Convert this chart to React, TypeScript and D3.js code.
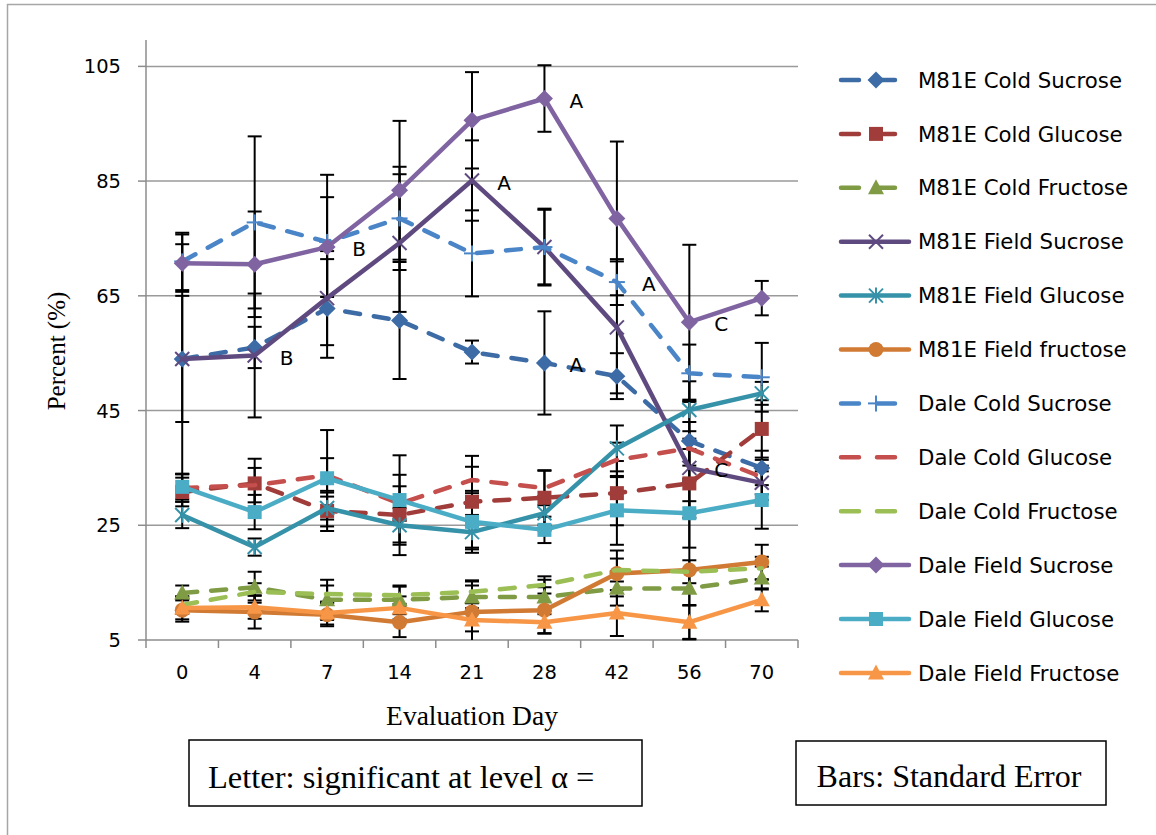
import React, { useEffect, useRef } from 'react';
import * as d3 from 'd3';

// Evaluation days on the x axis
const days = ['0', '4', '7', '14', '21', '28', '42', '56', '70'];
const yTicks = [5, 25, 45, 65, 85, 105];

const seriesNames = [
  'M81E Cold Sucrose',
  'M81E Cold Glucose',
  'M81E Cold Fructose',
  'M81E Field Sucrose',
  'M81E Field Glucose',
  'M81E Field fructose',
  'Dale Cold Sucrose',
  'Dale Cold Glucose',
  'Dale Cold  Fructose',
  'Dale Field Sucrose',
  'Dale Field Glucose',
  'Dale Field Fructose',
];

// Mean percent per day
const m81eColdSucrose = [54.0, 56.0, 62.8, 60.7, 55.2, 53.3, 51.0, 39.7, 35.0];
const m81eColdGlucose = [30.8, 32.3, 27.5, 26.8, 29.1, 29.8, 30.6, 32.3, 41.8];
const m81eColdFructose = [13.2, 14.2, 12.0, 12.0, 12.5, 12.5, 14.0, 14.0, 15.8];
const m81eFieldSucrose = [54.0, 54.6, 64.6, 74.2, 85.1, 73.5, 59.5, 35.0, 32.4];
const m81eFieldGlucose = [26.8, 21.2, 28.0, 25.0, 23.8, 27.1, 38.4, 45.1, 48.0];
const m81eFieldFructose = [10.2, 9.9, 9.4, 8.1, 9.9, 10.2, 16.6, 17.2, 18.6];
const daleColdSucrose = [71.0, 77.8, 74.4, 78.5, 72.4, 73.5, 67.4, 51.5, 50.8];
const daleColdGlucose = [31.5, 32.0, 33.7, 28.8, 32.9, 31.5, 36.4, 38.4, 33.4];
const daleColdFructose = [11.1, 13.4, 13.0, 12.8, 13.4, 14.6, 17.2, 16.9, 17.5];
const daleFieldSucrose = [70.7, 70.5, 73.5, 83.4, 95.6, 99.4, 78.5, 60.4, 64.6];
const daleFieldGlucose = [31.7, 27.3, 33.2, 29.4, 25.6, 24.2, 27.6, 27.1, 29.4];
const daleFieldFructose = [10.6, 10.7, 9.7, 10.6, 8.5, 8.1, 9.7, 8.1, 12.0];

// Standard error per day
const m81eColdSucroseSE = [11, 3.6, 8.6, 10.2, 2, 9, 4, 7, 3];
const m81eColdGlucoseSE = [2.5, 4.3, 3.5, 7, 8, 4.8, 5.6, 6, 5];
const m81eColdFructoseSE = [1.3, 2.7, 3.5, 2.5, 2, 3, 3, 3, 2];
const m81eFieldSucroseSE = [20, 10.8, 8.2, 12, 7, 6.7, 11.5, 8, 3];
const m81eFieldGlucoseSE = [2.3, 1.5, 2, 3, 3, 3, 4, 5, 2];
const m81eFieldFructoseSE = [2, 2.9, 2, 2.6, 5.3, 4, 4, 12, 3];
const daleColdSucroseSE = [5, 15, 11.7, 9, 7.5, 6.5, 4, 5, 6];
const daleColdGlucoseSE = [2.4, 3, 3, 3, 2.3, 3, 3, 3, 3];
const daleColdFructoseSE = [1.5, 1.5, 1.5, 1.5, 2, 1.5, 2, 2, 2];
const daleFieldSucroseSE = [5, 9.2, 8.7, 12.1, 8.4, 5.8, 13.4, 13.5, 3];
const daleFieldGlucoseSE = [2.2, 3, 8.4, 7.8, 5.4, 2.3, 6, 6, 5];
const daleFieldFructoseSE = [2, 2, 2, 2, 2, 2, 4, 3, 2];

const seriesValues = [
  m81eColdSucrose, m81eColdGlucose, m81eColdFructose,
  m81eFieldSucrose, m81eFieldGlucose, m81eFieldFructose,
  daleColdSucrose, daleColdGlucose, daleColdFructose,
  daleFieldSucrose, daleFieldGlucose, daleFieldFructose,
];
const seriesErrors = [
  m81eColdSucroseSE, m81eColdGlucoseSE, m81eColdFructoseSE,
  m81eFieldSucroseSE, m81eFieldGlucoseSE, m81eFieldFructoseSE,
  daleColdSucroseSE, daleColdGlucoseSE, daleColdFructoseSE,
  daleFieldSucroseSE, daleFieldGlucoseSE, daleFieldFructoseSE,
];

// Significance letters: series index, day, letter
const letters = [
  { series: 9, day: '28', text: 'A' },
  { series: 3, day: '21', text: 'A' },
  { series: 9, day: '7', text: 'B' },
  { series: 3, day: '4', text: 'B' },
  { series: 6, day: '42', text: 'A' },
  { series: 0, day: '28', text: 'A' },
  { series: 9, day: '56', text: 'C' },
  { series: 3, day: '56', text: 'C' },
];

const styles = [
  { color: '#3C6BA5', dashed: true, marker: 'diamond' },
  { color: '#A03D3A', dashed: true, marker: 'square' },
  { color: '#7F9C45', dashed: true, marker: 'triangle' },
  { color: '#5F4A80', dashed: false, marker: 'x' },
  { color: '#3592A8', dashed: false, marker: 'star' },
  { color: '#D07A34', dashed: false, marker: 'circle' },
  { color: '#4A85C8', dashed: true, marker: 'plus' },
  { color: '#C44F4C', dashed: true, marker: 'none' },
  { color: '#9BBE55', dashed: true, marker: 'none' },
  { color: '#8064A2', dashed: false, marker: 'diamond' },
  { color: '#4BACC6', dashed: false, marker: 'square' },
  { color: '#F79646', dashed: false, marker: 'triangle' },
];

const drawMarker = (g, type, color, cx, cy) => {
  const t = `translate(${cx},${cy})`;
  if (type === 'diamond') {
    g.append('path').attr('d', 'M0,-8.5L8.5,0L0,8.5L-8.5,0Z').attr('transform', t).attr('fill', color);
  } else if (type === 'square') {
    g.append('rect').attr('x', cx - 7).attr('y', cy - 7).attr('width', 14).attr('height', 14).attr('fill', color);
  } else if (type === 'triangle') {
    g.append('path').attr('d', 'M0,-8.5L8,6.5L-8,6.5Z').attr('transform', t).attr('fill', color);
  } else if (type === 'circle') {
    g.append('circle').attr('cx', cx).attr('cy', cy).attr('r', 7.5).attr('fill', color);
  } else if (type === 'x' || type === 'star' || type === 'plus') {
    const segs = [];
    if (type !== 'plus') segs.push([-7, -7, 7, 7], [-7, 7, 7, -7]);
    if (type === 'star') segs.push([0, -8, 0, 8]);
    if (type === 'plus') segs.push([-8, 0, 8, 0], [0, -8, 0, 8]);
    segs.forEach(s => {
      g.append('line')
        .attr('x1', cx + s[0]).attr('y1', cy + s[1])
        .attr('x2', cx + s[2]).attr('y2', cy + s[3])
        .attr('stroke', color).attr('stroke-width', 2);
    });
  }
};

const App = () => {
  const svgRef = useRef(null);

  useEffect(() => {
    const width = 1156;
    const height = 835;
    const svg = d3.select(svgRef.current);
    svg.selectAll('*').remove();
    svg.attr('width', width).attr('height', height);

    const sans = 'DejaVu Sans, sans-serif';
    const serif = 'Liberation Serif, Times New Roman, serif';

    // Outer chart frame
    svg.append('rect')
      .attr('x', 7.5).attr('y', 4.5).attr('width', 1170).attr('height', 850)
      .attr('fill', 'white').attr('stroke', '#a6a6a6').attr('stroke-width', 1.5);

    const x = d3.scaleBand().domain(days).range([146, 798]).padding(0);
    const cx = d => x(d) + x.bandwidth() / 2;
    const y = d3.scaleLinear().domain([5, 109.6]).range([640, 40]);

    // Gridlines
    svg.append('g').selectAll('line').data(yTicks.filter(t => t > 5)).enter().append('line')
      .attr('x1', 146).attr('x2', 798)
      .attr('y1', d => y(d)).attr('y2', d => y(d))
      .attr('stroke', '#9a9a9a').attr('stroke-width', 1.5);

    // Axes
    svg.append('line').attr('x1', 146).attr('x2', 146).attr('y1', y.range()[1]).attr('y2', 640)
      .attr('stroke', '#8c8c8c').attr('stroke-width', 1.5);
    svg.append('line').attr('x1', 146).attr('x2', 798).attr('y1', 640).attr('y2', 640)
      .attr('stroke', '#8c8c8c').attr('stroke-width', 1.5);
    svg.append('g').selectAll('line').data(yTicks).enter().append('line')
      .attr('x1', 138).attr('x2', 146)
      .attr('y1', d => y(d)).attr('y2', d => y(d))
      .attr('stroke', '#8c8c8c').attr('stroke-width', 1.5);
    const edges = days.map(d => x(d)).concat([798]);
    svg.append('g').selectAll('line').data(edges).enter().append('line')
      .attr('x1', d => d).attr('x2', d => d).attr('y1', 640).attr('y2', 648)
      .attr('stroke', '#8c8c8c').attr('stroke-width', 1.5);

    // Tick labels
    svg.append('g').selectAll('text').data(yTicks).enter().append('text')
      .attr('x', 121).attr('y', d => y(d)).attr('dy', '0.36em')
      .attr('text-anchor', 'end').attr('font-family', sans).attr('font-size', 19.5)
      .text(d => d);
    svg.append('g').selectAll('text').data(days).enter().append('text')
      .attr('x', d => cx(d)).attr('y', 672).attr('dy', '0.36em')
      .attr('text-anchor', 'middle').attr('font-family', sans).attr('font-size', 19.5)
      .text(d => d);

    // Axis titles
    svg.append('text')
      .attr('transform', 'translate(56,351) rotate(-90)')
      .attr('text-anchor', 'middle').attr('dy', '0.35em')
      .attr('font-family', serif).attr('font-size', 25)
      .text('Percent (%)');
    svg.append('text')
      .attr('x', 472).attr('y', 715).attr('dy', '0.35em')
      .attr('text-anchor', 'middle').attr('font-family', serif).attr('font-size', 27.5)
      .text('Evaluation Day');

    // Error bars
    const bars = svg.append('g');
    seriesValues.forEach((vals, s) => {
      vals.forEach((v, i) => {
        const e = seriesErrors[s][i];
        const px = cx(days[i]);
        const top = y(Math.min(v + e, 109.6));
        const bot = y(Math.max(v - e, 5));
        bars.append('line').attr('x1', px).attr('x2', px).attr('y1', top).attr('y2', bot)
          .attr('stroke', 'black').attr('stroke-width', 2);
        [v + e, v - e].forEach(c => {
          if (c > 109.6 || c < 5) return;
          bars.append('line').attr('x1', px - 7).attr('x2', px + 7)
            .attr('y1', y(c)).attr('y2', y(c))
            .attr('stroke', 'black').attr('stroke-width', 2);
        });
      });
    });

    // Series lines and markers
    const line = d3.line().x((d, i) => cx(days[i])).y(d => y(d));
    seriesValues.forEach((vals, s) => {
      const st = styles[s];
      const g = svg.append('g');
      g.append('path').attr('d', line(vals))
        .attr('fill', 'none').attr('stroke', st.color).attr('stroke-width', 4.5)
        .attr('stroke-linejoin', 'round').attr('stroke-linecap', 'round')
        .attr('stroke-dasharray', st.dashed ? '15,14' : null);
      vals.forEach((v, i) => drawMarker(g, st.marker, st.color, cx(days[i]), y(v)));
    });

    // Significance letters
    svg.append('g').selectAll('text').data(letters).enter().append('text')
      .attr('x', d => cx(d.day) + 32)
      .attr('y', d => y(seriesValues[d.series][days.indexOf(d.day)]) + 2)
      .attr('dy', '0.36em').attr('text-anchor', 'middle')
      .attr('font-family', sans).attr('font-size', 20)
      .text(d => d.text);

    // Legend
    const legend = svg.append('g');
    seriesNames.forEach((name, s) => {
      const st = styles[s];
      const ly = 80 + s * 53.9;
      legend.append('line')
        .attr('x1', 841).attr('x2', st.dashed ? 900 : 909).attr('y1', ly).attr('y2', ly)
        .attr('stroke', st.color).attr('stroke-width', 4.5).attr('stroke-linecap', 'round')
        .attr('stroke-dasharray', st.dashed ? '18,18' : null);
      drawMarker(legend, st.marker, st.color, 876, ly);
      legend.append('text')
        .attr('x', 918).attr('y', ly).attr('dy', '0.36em')
        .attr('font-family', sans).attr('font-size', 21.3)
        .text(name);
    });

    // Note boxes
    svg.append('rect').attr('x', 189).attr('y', 740).attr('width', 453).attr('height', 66)
      .attr('fill', 'white').attr('stroke', 'black').attr('stroke-width', 1.5);
    svg.append('text').attr('x', 208).attr('y', 778).attr('dy', '0.3em')
      .attr('font-family', serif).attr('font-size', 32.5)
      .text('Letter: significant at level α =');
    svg.append('rect').attr('x', 796).attr('y', 741).attr('width', 310).attr('height', 64)
      .attr('fill', 'white').attr('stroke', 'black').attr('stroke-width', 1.5);
    svg.append('text').attr('x', 949).attr('y', 777).attr('dy', '0.3em')
      .attr('text-anchor', 'middle').attr('font-family', serif).attr('font-size', 32)
      .text('Bars: Standard Error');
  }, []);

  return (
    <div style={{ position: 'absolute', left: 0, top: 0 }}>
      <svg ref={svgRef} style={{ display: 'block' }}></svg>
    </div>
  );
};

export default App;
